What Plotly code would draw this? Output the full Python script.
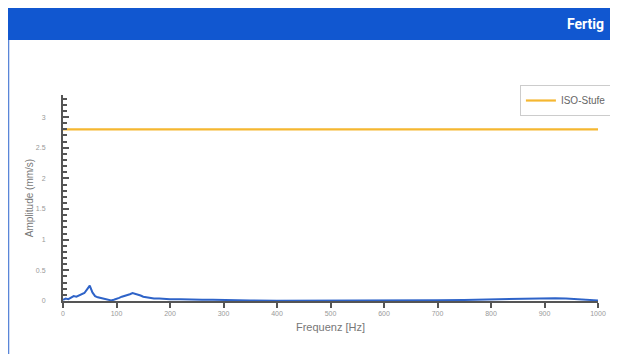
import plotly.graph_objects as go

freq = [0, 5, 10, 15, 20, 25, 30, 35, 40, 45, 50, 55, 60, 65, 70, 75, 80, 85, 90, 95,
        100, 105, 110, 115, 120, 125, 130, 135, 140, 145, 150, 155, 160, 170, 180, 190,
        200, 220, 240, 260, 280, 300, 320, 350, 400, 450, 500, 550, 600, 650, 700, 750,
        800, 830, 860, 880, 900, 920, 940, 960, 980, 1000]
amplitude = [0.02, 0.04, 0.03, 0.05, 0.08, 0.07, 0.09, 0.10, 0.13, 0.19, 0.25, 0.14, 0.08,
             0.06, 0.05, 0.03, 0.02, 0.01, 0.01, 0.02, 0.03, 0.05, 0.07, 0.08, 0.10, 0.11,
             0.13, 0.12, 0.10, 0.09, 0.07, 0.06, 0.05, 0.04, 0.04, 0.03, 0.03, 0.03, 0.02,
             0.02, 0.02, 0.015, 0.01, 0.01, 0.005, 0.005, 0.005, 0.008, 0.008, 0.01, 0.012,
             0.018, 0.025, 0.03, 0.04, 0.045, 0.05, 0.045, 0.04, 0.03, 0.02, 0.01]
iso_level = 2.8
iso_x = [0, 1000]
y_max = iso_level * 1.2

fig = go.Figure()
fig.add_trace(go.Scatter(x=freq, y=amplitude, mode="lines",
                         line=dict(color="#2E63C8", width=2), showlegend=False))
fig.add_trace(go.Scatter(x=iso_x, y=[iso_level, iso_level], mode="lines",
                         name="ISO-Stufe", line=dict(color="#F5B731", width=2.2)))

axis_color = "#555555"
fig.update_layout(
    width=610, height=346,
    margin=dict(l=55, r=20, t=87, b=53, autoexpand=False),
    paper_bgcolor="white", plot_bgcolor="white",
    font=dict(family="Liberation Sans, Arial, sans-serif", color="#888888"),
    xaxis=dict(range=[0, 1000], dtick=100, showgrid=False, zeroline=False,
               showline=True, linecolor=axis_color, linewidth=2,
               ticks="outside", ticklen=5, tickwidth=2, tickcolor=axis_color,
               tickfont=dict(size=7, color="#999999"),
               title=dict(text="Frequenz [Hz]", font=dict(size=11, color="#777777"), standoff=7)),
    yaxis=dict(range=[0, y_max], dtick=0.5, showgrid=False, zeroline=False,
               showline=True, linecolor=axis_color, linewidth=2,
               ticks="inside", ticklen=6, tickwidth=2, tickcolor=axis_color,
               minor=dict(dtick=0.1, ticks="inside", ticklen=4, tickwidth=1.5, tickcolor=axis_color),
               ticklabelstandoff=14,
               tickfont=dict(size=7, color="#999999"),
               title=dict(text="Amplitude (mm/s)", font=dict(size=10, color="#777777"), standoff=0)),
    legend=dict(x=1.026, y=1.0485, xanchor="right", yanchor="top",
                bordercolor="#CCCCCC", borderwidth=1, bgcolor="white",
                itemwidth=30, font=dict(size=10, color="#666666")),
    shapes=[
        dict(type="rect", xref="paper", yref="paper", x0=-0.11, x1=1.06, y0=1.267, y1=1.43,
             fillcolor="#1157D0", line=dict(width=0), layer="below"),
        dict(type="line", xref="paper", yref="paper", x0=-0.1018, x1=-0.1018, y0=-0.3, y1=1.267,
             line=dict(color="#5A86D8", width=1.5)),
    ],
    annotations=[
        dict(text="<b>Fertig</b>", xref="paper", yref="paper", x=1.015, y=1.345,
             xanchor="right", yanchor="middle", showarrow=False,
             font=dict(size=14, color="white", family="Roboto, sans-serif")),
    ],
)

fig.write_html("out.html")
